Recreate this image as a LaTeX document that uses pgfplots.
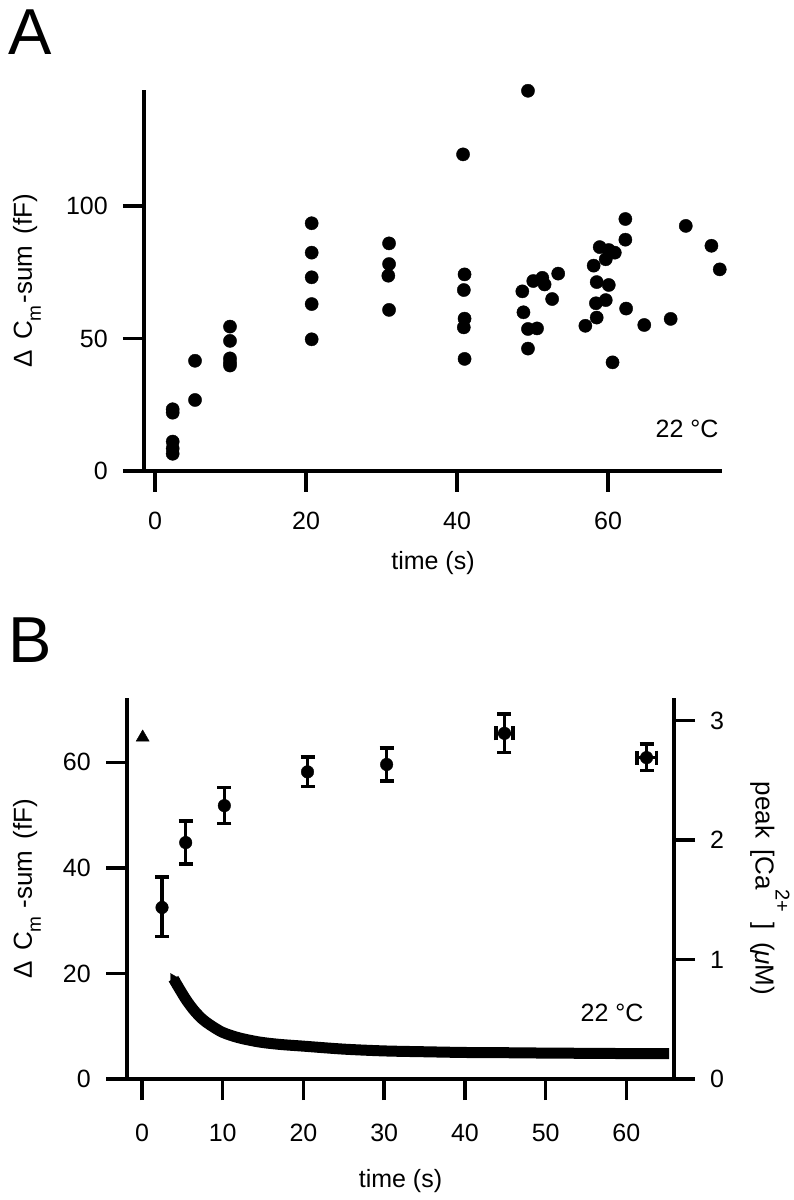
\documentclass[border=0pt]{standalone}
\usepackage{fontspec}
\setmainfont{Liberation Sans}
\usepackage{pgfplots}
\pgfplotsset{compat=1.18}
\newcommand\lab{\fontsize{25bp}{30bp}\selectfont}
\newcommand\ylab{\fontsize{26bp}{30bp}\selectfont}
\newcommand\sub{\raisebox{-9bp}{\fontsize{19bp}{19bp}\selectfont m}}
\pgfplotsset{myax/.style={scale only axis, clip=false,
  major tick length=21bp,
  tick style={black, line width=3.5bp},
  tick label style={font=\lab, inner sep=0pt},
  label style={font=\lab},
  /pgf/number format/assume math mode=true,
  xticklabel shift=20bp, yticklabel shift=15bp},
  fin/.style={axis line style={-, line width=3.5bp}, tick align=outside}}
\begin{document}
\begin{tikzpicture}[x=1bp,y=1bp]
\path[use as bounding box] (0,0) rectangle (794,1200);
% Panel A
\begin{axis}[myax, at={(144bp,729bp)}, anchor=south west,
  width=578bp, height=381bp,
  xmin=-1.46, xmax=75.1, ymin=0, ymax=143.8,
  axis x line=bottom, axis y line=left, fin,
  xtick={0,20,40,60}, ytick={0,50,100},
  xlabel={time (s)},
  xlabel style={at={(axis description cs:0.5,-0.2598)}, anchor=base, font=\lab},
  ylabel={Δ\hspace{10bp}C\sub\hspace{2bp}-sum\hspace{4bp} (fF)},
  ylabel style={at={(axis description cs:-0.2024,0.5)}, anchor=center, font=\ylab}]
\addplot[only marks, mark=*, mark size=6.6bp, black] table {
x y
2.34 23.3
2.34 22.0
2.34 11.1
2.34 8.5
2.34 6.5
5.3 41.6
5.3 26.8
9.93 54.5
9.93 49.1
9.93 42.5
9.93 41.0
9.93 39.8
20.75 93.5
20.75 82.4
20.75 73.1
20.75 63.0
20.75 49.7
31.0 85.9
31.0 78.1
30.9 73.7
31.0 60.8
49.4 143.5
40.8 119.5
41.0 74.2
40.9 68.3
41.0 57.5
40.9 54.2
41.0 42.3
48.65 67.8
48.8 59.9
49.4 46.2
49.4 53.6
50.6 53.8
50.1 71.7
51.3 72.9
51.6 70.4
52.6 64.9
53.4 74.5
57.0 54.8
58.5 57.9
58.4 63.3
59.7 64.5
58.5 71.3
60.1 70.2
58.1 77.5
59.7 79.9
58.9 84.5
60.1 83.4
60.9 82.4
62.3 87.3
62.3 95.1
62.4 61.3
60.6 41.0
64.8 55.1
68.3 57.4
70.3 92.5
73.7 85.0
74.8 76.1
};
\end{axis}
\node[anchor=base east, font=\lab] at (722,762) {22 °C};
\node[anchor=base west, font=\fontsize{65bp}{70bp}\selectfont] at (5,1145) {A};
% Panel B left axis
\begin{axis}[myax, at={(127bp,121bp)}, anchor=south west,
  width=547bp, height=381bp,
  xmin=-1.86, xmax=65.9, ymin=0, ymax=72.2,
  axis x line=bottom, axis y line=left, fin,
  xticklabel shift=24bp,
  xtick={0,10,20,30,40,50,60}, ytick={0,20,40,60},
  xlabel={time (s)},
  xlabel style={at={(axis description cs:0.5,-0.2835)}, anchor=base, font=\lab},
  ylabel={Δ\hspace{10bp}C\sub\hspace{8bp}-sum\hspace{4bp} (fF)},
  ylabel style={at={(axis description cs:-0.1828,0.5)}, anchor=center, font=\ylab}]
\addplot[only marks, mark=*, mark size=6.3bp, black,
  error bars/.cd, y dir=both, y explicit,
  error bar style={line width=3.5bp},
  error mark options={line width=3.5bp, mark size=7bp, rotate=90}]
  table[x=x, y=y, y error plus=ep, y error minus=em] {
x y ep em
2.48 32.5 5.8 5.5
5.41 44.8 4.1 4.1
10.2 51.8 3.4 3.4
20.5 58.2 2.8 2.8
30.3 59.6 3.1 3.1
};
\addplot[only marks, mark=*, mark size=6.3bp, black,
  error bars/.cd, y dir=both, y explicit, x dir=both, x explicit,
  error bar style={line width=3.5bp},
  error mark options={line width=3.5bp, mark size=7bp, rotate=90}]
  table[x=x, y=y, x error=ex, y error plus=ep, y error minus=em] {
x y ex ep em
44.9 65.5 1.05 3.7 3.6
62.5 60.9 1.2 2.6 2.4
};
\end{axis}
% Panel B right axis
\begin{axis}[myax, at={(127bp,121bp)}, anchor=south west,
  width=547bp, height=381bp,
  xmin=-1.86, xmax=65.9, ymin=0, ymax=3.19,
  axis x line=none, axis y line=right, fin,
  xtick=\empty, ytick={0,1,2,3},
  ylabel={peak\hspace{4bp} [Ca\raisebox{20bp}{\fontsize{20bp}{20bp}\selectfont 2+}\hspace{10bp}]\hspace{5bp} ({\itshape μ}M)},
  ylabel style={at={(axis description cs:1.1755,0.5)}, anchor=center, rotate=180, font=\ylab}]
\addplot[only marks, mark=triangle*, mark size=7.5bp, black] coordinates {(0.08,2.86)};
\addplot[black, line width=11bp, smooth] coordinates {
(3.9,0.84) (4.5,0.77) (5.5,0.66) (6.5,0.57) (7.5,0.50) (8.5,0.45)
(10,0.39) (12,0.345) (14.5,0.31) (17,0.29) (20,0.275) (25,0.25)
(30,0.235) (35,0.228) (40,0.222) (45,0.22) (50,0.217) (55,0.215)
(60,0.213) (65.3,0.212)};
\addplot[only marks, mark=triangle*, mark size=6bp, black, mark options={rotate=30}] coordinates {(3.9,0.84)};
\end{axis}
\node[anchor=base east, font=\lab] at (647,178) {22 °C};
\node[anchor=base west, font=\fontsize{65bp}{70bp}\selectfont] at (5,537) {B};
\end{tikzpicture}
\end{document}
